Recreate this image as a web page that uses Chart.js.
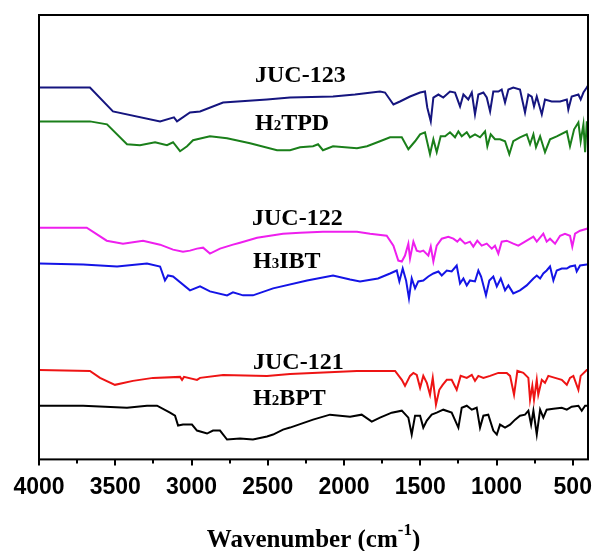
<!DOCTYPE html>
<html>
<head>
<meta charset="utf-8">
<script src="https://cdn.jsdelivr.net/npm/chart.js@4"></script>
<style>
  body { margin: 0; background: #fff; }
  canvas { display: block; }
</style>
</head>
<body>
<canvas id="ftirChart" width="595" height="551"></canvas>
<script>
// FTIR spectra. Wavenumber in cm-1, intensity in a.u. (traces stacked)
const juc123Wn = [4000, 3666, 3515, 3206, 3115, 3095, 3010, 2944, 2793, 2505, 2354, 2072, 1928, 1764, 1731, 1676, 1633, 1567, 1501, 1469, 1454, 1431, 1414, 1381, 1349, 1305, 1272, 1239, 1217, 1185, 1162, 1141, 1119, 1086, 1064, 1042, 1021, 988, 966, 944, 922, 890, 846, 813, 791, 769, 754, 736, 703, 682, 638, 583, 539, 529, 507, 463, 448, 430, 408, 400];
const juc123Int = [374, 374, 350, 340, 344, 340, 349, 350, 359, 362, 364, 365, 367, 370, 369, 357, 360, 365, 369, 370, 354, 340, 364, 367, 364, 370, 369, 355, 367, 362, 369, 347, 367, 369, 364, 350, 370, 370, 372, 359, 372, 374, 372, 349, 367, 365, 355, 365, 347, 362, 360, 360, 362, 352, 365, 367, 362, 369, 374, 376];

const h2tpdWn = [4000, 3666, 3554, 3423, 3338, 3239, 3161, 3121, 3075, 3029, 2990, 2879, 2767, 2616, 2439, 2354, 2288, 2203, 2170, 2138, 2072, 1915, 1849, 1764, 1698, 1621, 1578, 1534, 1501, 1469, 1436, 1414, 1392, 1366, 1337, 1305, 1272, 1250, 1228, 1195, 1174, 1141, 1108, 1075, 1060, 1038, 1010, 977, 944, 916, 890, 846, 802, 780, 758, 741, 714, 682, 649, 605, 539, 518, 491, 463, 448, 430, 419, 408, 400];
const h2tpdInt = [340, 340, 337, 317, 316, 319, 316, 319, 310, 315, 321, 325, 323, 318, 311, 311, 314, 315, 317, 311, 315, 313, 315, 320, 324, 324, 312, 320, 327, 329, 307, 322, 309, 325, 325, 329, 324, 330, 325, 329, 324, 327, 324, 330, 315, 327, 322, 322, 320, 307, 320, 324, 327, 317, 327, 314, 325, 309, 322, 325, 330, 315, 332, 339, 320, 337, 309, 339, 339];

const juc122Wn = [4000, 3687, 3556, 3449, 3318, 3206, 3121, 3056, 3010, 2964, 2924, 2879, 2813, 2728, 2682, 2570, 2400, 2288, 2138, 1915, 1829, 1720, 1676, 1644, 1621, 1600, 1578, 1567, 1545, 1523, 1501, 1480, 1447, 1431, 1414, 1392, 1359, 1316, 1283, 1257, 1239, 1206, 1174, 1152, 1126, 1097, 1064, 1031, 1010, 988, 966, 933, 890, 857, 802, 758, 736, 693, 671, 649, 616, 583, 551, 518, 503, 485, 452, 408, 400];
const juc122Int = [233, 233, 220, 217, 220, 216, 211, 209, 210, 212, 213, 207, 212, 216, 218, 223, 227, 228, 229, 229, 227, 225, 215, 200, 199, 205, 217, 202, 219, 210, 209, 210, 205, 214, 199, 215, 222, 224, 222, 219, 222, 217, 219, 214, 220, 215, 217, 212, 215, 207, 219, 220, 217, 215, 220, 224, 219, 227, 219, 222, 217, 225, 227, 225, 214, 227, 230, 232, 233];

const h3ibtWn = [4000, 3711, 3488, 3292, 3206, 3174, 3154, 3121, 3010, 2944, 2879, 2767, 2728, 2662, 2597, 2465, 2242, 2072, 1960, 1895, 1777, 1698, 1654, 1637, 1615, 1593, 1574, 1556, 1534, 1513, 1480, 1447, 1414, 1381, 1359, 1326, 1294, 1261, 1239, 1217, 1195, 1174, 1141, 1119, 1101, 1069, 1047, 1021, 998, 972, 944, 922, 890, 846, 802, 758, 736, 714, 693, 671, 649, 627, 605, 572, 539, 518, 485, 474, 452, 408, 400];
const h3ibtInt = [197, 196, 194, 197, 194, 180, 185, 184, 170, 174, 169, 165, 168, 165, 165, 172, 180, 185, 181, 179, 182, 187, 190, 179, 192, 180, 162, 182, 172, 179, 180, 184, 187, 189, 185, 190, 189, 195, 177, 182, 175, 180, 179, 190, 184, 165, 180, 184, 174, 182, 170, 175, 167, 170, 175, 182, 185, 182, 187, 190, 194, 180, 190, 192, 192, 194, 195, 189, 195, 196, 196];

const juc121Wn = [4000, 3666, 3600, 3502, 3384, 3252, 3075, 3062, 3049, 2964, 2944, 2793, 2505, 2354, 1915, 1764, 1665, 1621, 1600, 1567, 1545, 1523, 1501, 1480, 1457, 1436, 1418, 1397, 1375, 1353, 1326, 1294, 1261, 1235, 1195, 1162, 1141, 1119, 1086, 1042, 988, 933, 911, 885, 863, 824, 791, 780, 765, 754, 736, 726, 703, 682, 660, 616, 572, 539, 518, 496, 463, 448, 408, 400];
const juc121Int = [90, 89, 82, 75, 79, 82, 83, 80, 83, 80, 82, 85, 84, 86, 89, 89, 89, 80, 74, 84, 87, 85, 72, 84, 77, 65, 82, 55, 70, 75, 80, 80, 70, 84, 82, 85, 79, 84, 82, 84, 87, 87, 84, 65, 89, 87, 82, 60, 74, 60, 80, 65, 80, 77, 84, 82, 80, 75, 82, 84, 70, 84, 90, 90];

const h2bptWn = [4000, 3711, 3423, 3292, 3226, 3141, 3108, 3088, 3056, 2997, 2964, 2898, 2859, 2813, 2767, 2682, 2597, 2505, 2465, 2400, 2354, 2203, 2092, 1960, 1884, 1818, 1764, 1687, 1621, 1578, 1556, 1534, 1501, 1480, 1457, 1425, 1392, 1349, 1294, 1250, 1228, 1195, 1162, 1130, 1108, 1086, 1054, 1021, 998, 977, 944, 911, 878, 846, 813, 791, 773, 758, 736, 714, 693, 671, 627, 572, 539, 507, 463, 441, 419, 400];
const h2bptInt = [54, 54, 52, 54, 54, 47, 44, 34, 35, 35, 29, 26, 29, 29, 20, 21, 20, 23, 25, 30, 32, 40, 45, 43, 45, 38, 42, 47, 49, 42, 25, 44, 44, 32, 39, 45, 47, 50, 47, 32, 52, 54, 50, 52, 32, 44, 45, 29, 25, 35, 32, 35, 40, 44, 45, 49, 35, 49, 25, 50, 42, 50, 51, 52, 50, 53, 54, 49, 54, 54];

const xTicks = [500, 1000, 1500, 2000, 2500, 3000, 3500, 4000];
const xMinorTicks = [750, 1250, 1750, 2250, 2750, 3250, 3750];

function toPoints(wn, vals) {
    return wn.map((w, i) => ({ x: w, y: vals[i] }));
}

function trace(label, wn, vals, color) {
    return {
        label: label,
        data: toPoints(wn, vals),
        borderColor: color,
        borderWidth: 2,
        pointRadius: 0,
        tension: 0,
        fill: false
    };
}

// draw text made of pieces (for sub/superscripts)
function drawPieces(ctx, pieces, x, y) {
    let cx = x;
    pieces.forEach(([t, size, dy]) => {
        ctx.font = 'bold ' + size + 'px "Liberation Serif"';
        ctx.fillText(t, cx, y + dy);
        cx += ctx.measureText(t).width;
    });
}

function piecesWidth(ctx, pieces) {
    let w = 0;
    pieces.forEach(([t, size]) => {
        ctx.font = 'bold ' + size + 'px "Liberation Serif"';
        w += ctx.measureText(t).width;
    });
    return w;
}

const sampleLabels = [
    { pieces: [['JUC-123', 24, 0]], x: 255, y: 82 },
    { pieces: [['H', 24, 0], ['2', 15, 0], ['TPD', 24, 0]], x: 255, y: 130 },
    { pieces: [['JUC-122', 24, 0]], x: 252, y: 225 },
    { pieces: [['H', 24, 0], ['3', 15, 0], ['IBT', 24, 0]], x: 253, y: 268 },
    { pieces: [['JUC-121', 24, 0]], x: 253, y: 369 },
    { pieces: [['H', 24, 0], ['2', 15, 0], ['BPT', 24, 0]], x: 253, y: 405 }
];

const framePlugin = {
    id: 'frame',
    afterDraw(chart) {
        const ctx = chart.ctx;
        const a = chart.chartArea;
        const x = chart.scales.x;
        ctx.save();
        ctx.strokeStyle = '#000';
        ctx.lineWidth = 2;
        ctx.strokeRect(a.left, a.top, a.right - a.left, a.bottom - a.top);

        // outward tick marks on the bottom axis
        ctx.beginPath();
        xTicks.forEach(v => {
            const px = Math.round(x.getPixelForValue(v));
            ctx.moveTo(px, a.bottom);
            ctx.lineTo(px, a.bottom + 6);
        });
        xMinorTicks.forEach(v => {
            const px = Math.round(x.getPixelForValue(v));
            ctx.moveTo(px, a.bottom);
            ctx.lineTo(px, a.bottom + 4);
        });
        ctx.stroke();

        // sample names
        ctx.fillStyle = '#000';
        ctx.textBaseline = 'alphabetic';
        ctx.textAlign = 'left';
        sampleLabels.forEach(l => drawPieces(ctx, l.pieces, l.x, l.y));

        // axis title
        const title = [['Wavenumber (cm', 25, 0], ['-1', 17, -12], [')', 25, 0]];
        const w = piecesWidth(ctx, title);
        drawPieces(ctx, title, (a.left + a.right) / 2 - w / 2, 547);
        ctx.restore();
    }
};

new Chart(document.getElementById('ftirChart'), {
    type: 'line',
    data: {
        datasets: [
            trace('JUC-123', juc123Wn, juc123Int, '#15157f'),
            trace('H2TPD', h2tpdWn, h2tpdInt, '#1a7f1a'),
            trace('JUC-122', juc122Wn, juc122Int, '#ee1fee'),
            trace('H3IBT', h3ibtWn, h3ibtInt, '#1414e6'),
            trace('JUC-121', juc121Wn, juc121Int, '#ee1414'),
            trace('H2BPT', h2bptWn, h2bptInt, '#000000')
        ]
    },
    options: {
        responsive: false,
        animation: false,
        layout: {
            padding: { left: 39, top: 15, right: 7, bottom: 36 }
        },
        plugins: {
            legend: { display: false },
            tooltip: { enabled: false }
        },
        scales: {
            x: {
                type: 'linear',
                reverse: true,
                min: 400,
                max: 4000,
                afterBuildTicks: (scale) => {
                    scale.ticks = xTicks.map(v => ({ value: v }));
                },
                grid: { display: false, drawTicks: false },
                border: { display: false },
                ticks: {
                    autoSkip: false,
                    maxRotation: 0,
                    padding: 14,
                    color: '#000',
                    font: { family: 'Liberation Sans', size: 23, weight: 'bold' },
                    callback: (v) => String(v)
                }
            },
            y: {
                display: false,
                min: 0,
                max: 447
            }
        }
    },
    plugins: [framePlugin]
});
</script>
</body>
</html>
